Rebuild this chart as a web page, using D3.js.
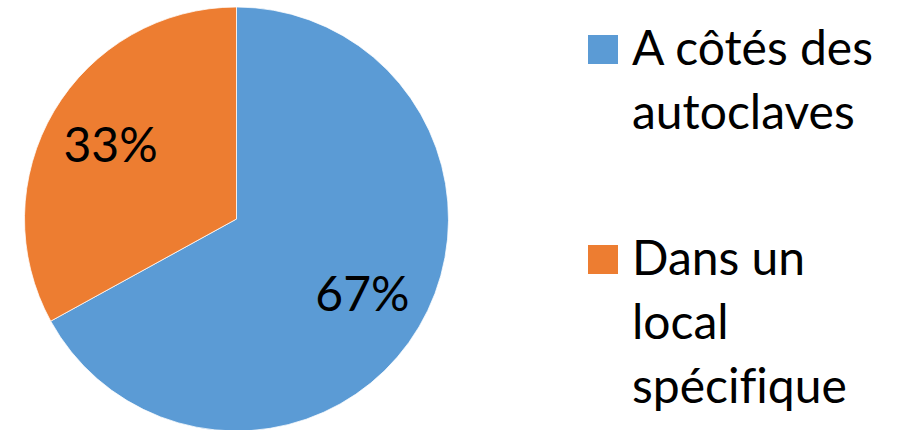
<!DOCTYPE html>
<html><head><meta charset="utf-8">
<script src="https://cdn.jsdelivr.net/npm/d3@7/dist/d3.min.js"></script>
<style>html,body{margin:0;padding:0;background:#fff;}svg{display:block;}text{font-variant-ligatures:none;}</style>
</head><body>
<svg id="chart" width="904" height="430"></svg>
<script>
const categories = ["A côtés des autoclaves", "Dans un local spécifique"];
const values = [67, 33];
const colors = ["#5B9BD5", "#ED7D31"];

const W = 904, H = 430;
const svg = d3.select("#chart");
const cx = 236.5, cy = 219, R = 212;
const font = "Lato, 'Open Sans', sans-serif";

const pie = d3.pie().sort(null).value(d => d)(values);
const arc = d3.arc().innerRadius(0).outerRadius(R);
const labelArc = d3.arc().innerRadius(R * 0.69).outerRadius(R * 0.69);
const total = d3.sum(values);

const g = svg.append("g").attr("transform", `translate(${cx},${cy})`);
g.selectAll("path").data(pie).join("path")
  .attr("d", arc)
  .attr("fill", (d, i) => colors[i])
  .attr("stroke", "#fff").attr("stroke-width", 0.75);

g.selectAll("text").data(pie).join("text")
  .attr("transform", d => `translate(${labelArc.centroid(d)})`)
  .attr("text-anchor", "middle")
  .attr("dy", "0.36em")
  .attr("font-family", font)
  .attr("font-size", 48)
  .attr("fill", "#000")
  .text(d => Math.round(d.data / total * 100) + "%");

// legend
const lx = 588, textX = 632, sq = 30, lineH = 64, fs = 48;
const legendTops = [35, 245];
const maxW = 270;
categories.forEach((c, i) => {
  svg.append("rect").attr("x", lx).attr("y", legendTops[i]).attr("width", sq).attr("height", sq - 1)
    .attr("fill", colors[i]);
  const t = svg.append("text").attr("font-family", font).attr("font-size", fs).attr("fill", "#000");
  const words = c.split(" ");
  let line = [], lines = [];
  const probe = svg.append("text").attr("font-family", font).attr("font-size", fs);
  words.forEach(w => {
    const test = line.concat([w]).join(" ");
    probe.text(test);
    if (line.length && probe.node().getComputedTextLength() > maxW) { lines.push(line.join(" ")); line = [w]; }
    else line.push(w);
  });
  lines.push(line.join(" "));
  probe.remove();
  lines.forEach((l, k) => {
    t.append("tspan").attr("x", textX).attr("y", legendTops[i] + 30 + k * lineH).text(l);
  });
});
</script>
</body></html>
